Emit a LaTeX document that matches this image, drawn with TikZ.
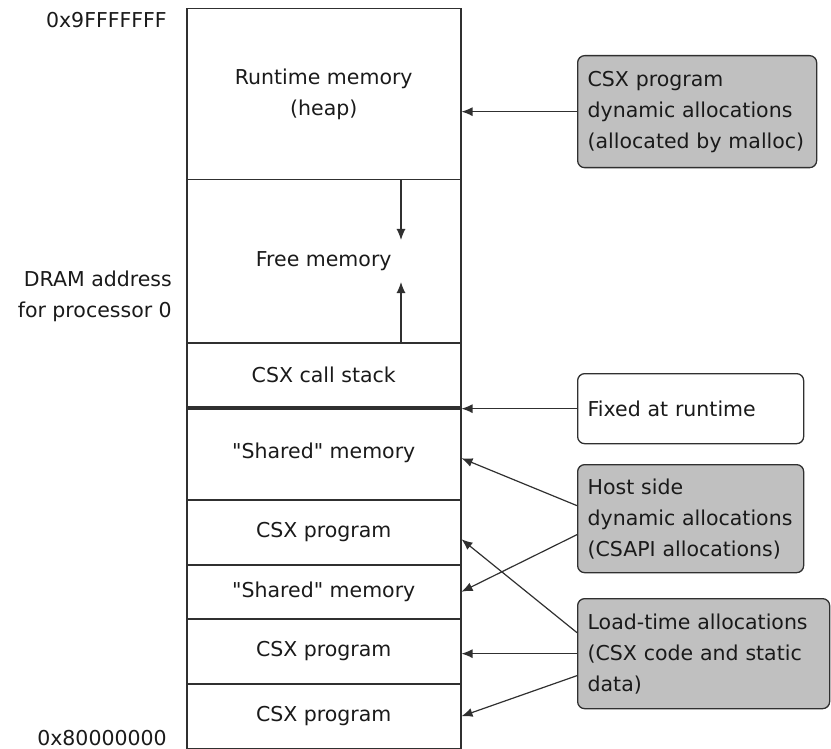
\documentclass[tikz,border=0pt]{standalone}
\usepackage{fontspec}
\setmainfont{DejaVu Sans}
\usetikzlibrary{arrows.meta}
\definecolor{boxgray}{HTML}{C0C0C0}
\definecolor{linegray}{HTML}{303030}
\definecolor{inkblack}{HTML}{1A1A1A}

\begin{document}
\begin{tikzpicture}[x=1pt,y=-1pt,
	every node/.style={font=\fontsize{20.5}{31}\selectfont,text=inkblack},
	seg/.style={draw=linegray,line width=1.5pt,minimum width=274pt,anchor=north west,inner sep=0pt,align=center},
	note/.style={draw=linegray,line width=1.3pt,rounded corners=7pt,anchor=north west,align=left,inner xsep=10pt,inner ysep=0pt},
	addr/.style={anchor=east,inner sep=0pt,align=right},
	ptr/.style={draw=linegray,line width=1.2pt,-{Latex[length=11pt,width=9pt]}}]
		\useasboundingbox (0,0) rectangle (831,749);
		\node[seg,minimum height=171pt] (heap) at (186,8) {Runtime memory\\(heap)};
		\node[seg,minimum height=163pt] (free) at (186,179) {Free memory};
		\node[seg,minimum height=64pt] (stack) at (186,342) {CSX call stack};
		\node[seg,minimum height=93pt] (shared1) at (186,406) {\textquotedbl Shared\textquotedbl\ memory};
		\node[seg,minimum height=65pt] (prog1) at (186,499) {CSX program};
		\node[seg,minimum height=54pt] (shared2) at (186,564) {\textquotedbl Shared\textquotedbl\ memory};
		\node[seg,minimum height=65pt] (prog2) at (186,618) {CSX program};
		\node[seg,minimum height=65pt] (prog3) at (186,683) {CSX program};
		\draw[draw=linegray,line width=4pt] (stack.south west) -- (stack.south east);
		\node[addr] (hightop) at (167,20) {0x9FFFFFFF};
		\node[addr] (dram) at (172,296) {DRAM address\\for processor 0};
		\node[addr] (lowbase) at (167,738) {0x80000000};
		\node[note,fill=boxgray,minimum height=112pt,text width=219pt] (malloc) at (577,55) {CSX program\\dynamic allocations\\(allocated by malloc)};
		\node[note,fill=white,minimum height=70pt,text width=206pt] (fixed) at (577,373) {Fixed at runtime};
		\node[note,fill=boxgray,minimum height=108pt,text width=206pt] (csapi) at (577,464) {Host side\\dynamic allocations\\(CSAPI allocations)};
		\node[note,fill=boxgray,minimum height=110pt,text width=232pt] (loadtime) at (577,598) {Load-time allocations\\(CSX code and static\\data)};
		\coordinate (growdown) at (401,240);
		\coordinate (growup) at (401,282);
		\draw[ptr] (heap.south -| growdown) -- (growdown);
		\draw[ptr] (free.south -| growup) -- (growup);
		\draw[ptr] (malloc.west) -- (malloc.west -| heap.east);
		\draw[ptr] (fixed.west) -- (fixed.west -| stack.east);
		\draw[ptr] ([yshift=13pt]csapi.west) -- ([yshift=-5pt]shared1.east);
		\draw[ptr] ([yshift=-16pt]csapi.west) -- (shared2.east);
		\draw[ptr] ([yshift=21pt]loadtime.west) -- ([yshift=-7pt]prog1.east);
		\draw[ptr] (loadtime.west) -- (loadtime.west -| prog2.east);
		\draw[ptr] ([yshift=-22pt]loadtime.west) -- (prog3.east);
	\end{tikzpicture}
\end{document}
